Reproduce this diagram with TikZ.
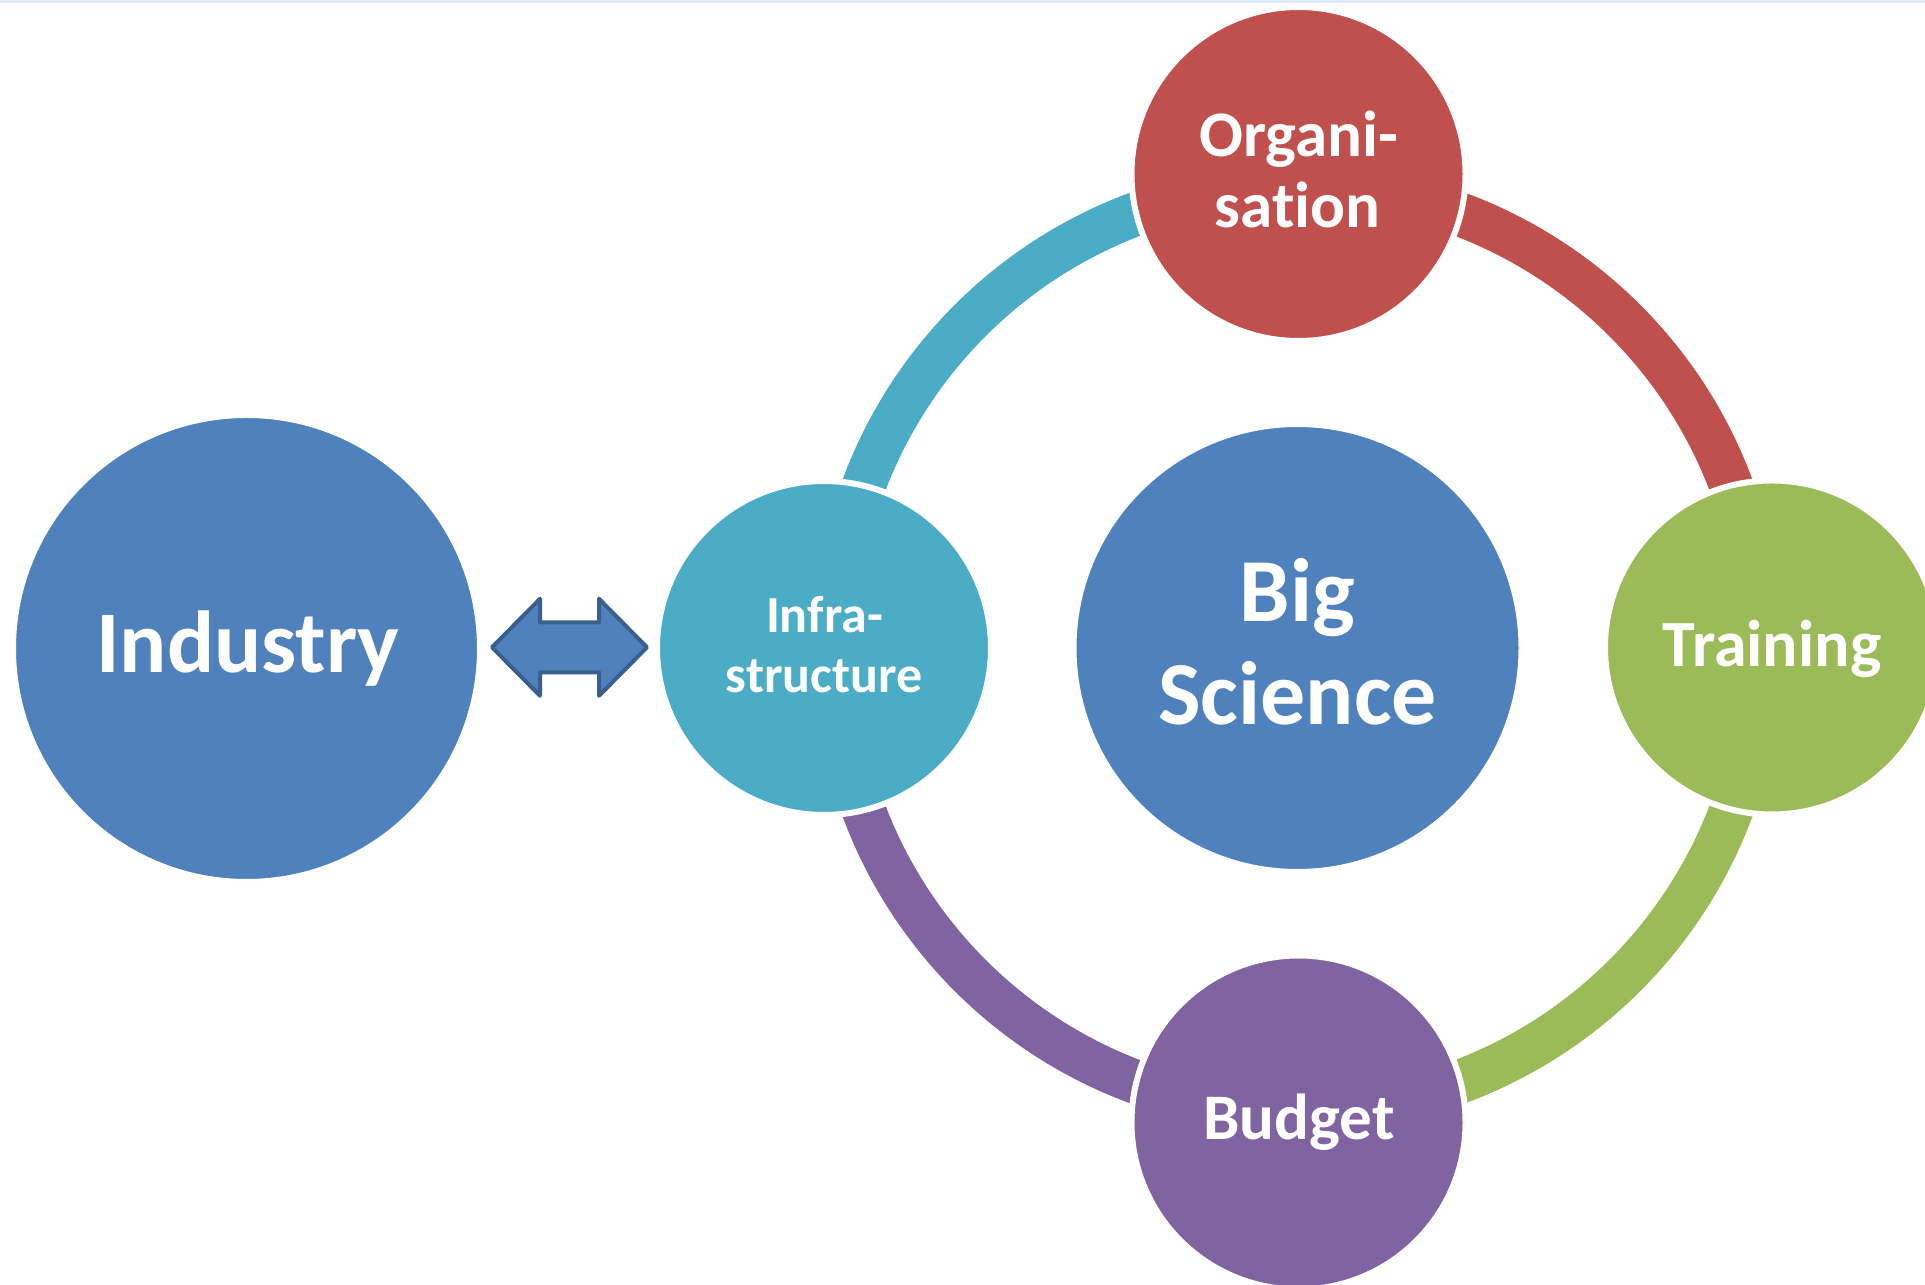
\documentclass[tikz,border=0pt]{standalone}
\usepackage{fontspec}
\setmainfont[Ligatures=NoCommon]{Carlito}
\definecolor{cblue}{HTML}{4F81BD}
\definecolor{cteal}{HTML}{4BACC6}
\definecolor{cred}{HTML}{C0504D}
\definecolor{cgreen}{HTML}{9BBB59}
\definecolor{cpurple}{HTML}{8064A2}
\definecolor{cdark}{HTML}{3A5F8E}
\definecolor{topline}{HTML}{DDECF9}
\begin{document}
\begin{tikzpicture}[x=1pt,y=1pt,
  disc/.style={circle, draw=white, line width=6pt, inner sep=0pt, outer sep=0pt},
  lbl/.style={text=white, font=\bfseries, anchor=base, inner sep=0pt},
  ringarc/.style={line width=44pt}]
\useasboundingbox (0,0) rectangle (1925,1285);
\clip (0,0) rectangle (1925,1285);
\fill[white] (0,0) rectangle (1925,1285);
\fill[topline] (0,1282) rectangle (1925,1285);
% ring
\coordinate (ringc) at (1297.5,637);
\draw[ringarc, cteal]   ([shift={(180:463)}]ringc) arc[start angle=180, end angle=90,  radius=463];
\draw[ringarc, cred]    ([shift={(90:463)}]ringc)  arc[start angle=90,  end angle=0,   radius=463];
\draw[ringarc, cgreen]  ([shift={(0:463)}]ringc)   arc[start angle=0,   end angle=-90, radius=463];
\draw[ringarc, cpurple] ([shift={(-90:463)}]ringc) arc[start angle=-90, end angle=-180,radius=463];
% circles
\node[disc, fill=cblue,   minimum size=467pt] (industry) at (246.5,636.5) {};
\node[disc, fill=cteal,   minimum size=334pt] (infra)    at (824,637) {};
\node[disc, fill=cblue,   minimum size=448pt] (big)      at (1297.5,637) {};
\node[disc, fill=cred,    minimum size=334pt] (org)      at (1298.5,1111) {};
\node[disc, fill=cgreen,  minimum size=334pt] (training) at (1772,637.5) {};
\node[disc, fill=cpurple, minimum size=334pt] (budget)   at (1298.5,162.5) {};
% double arrow
\coordinate (arr) at (569.5,637.7);
\draw[fill=cblue, draw=cdark, line width=4pt, line join=round]
  ([shift={(-77.5,0)}]arr) -- ([shift={(-29.5,48.5)}]arr) -- ([shift={(-29.5,25)}]arr)
  -- ([shift={(29.5,25)}]arr) -- ([shift={(29.5,48.5)}]arr) -- ([shift={(77.5,0)}]arr)
  -- ([shift={(29.5,-48.5)}]arr) -- ([shift={(29.5,-25)}]arr) -- ([shift={(-29.5,-25)}]arr)
  -- ([shift={(-29.5,-48.5)}]arr) -- cycle;
% labels
\node[lbl, font=\bfseries\fontsize{88}{88}\selectfont] (industry-t) at (248,612) {Industry};
\node[lbl, font=\bfseries\fontsize{52}{52}\selectfont] (infra-t1) at (824.5,652) {Infra-};
\node[lbl, font=\bfseries\fontsize{52}{52}\selectfont] (infra-t2) at (824,592) {structure};
\node[lbl, font=\bfseries\fontsize{90}{90}\selectfont] (big-t1) at (1297.5,663) {Big};
\node[lbl, font=\bfseries\fontsize{90}{90}\selectfont] (big-t2) at (1297.5,560) {Science};
\node[lbl, font=\bfseries\fontsize{65}{65}\selectfont] (org-t1) at (1298.5,1128) {Organi-};
\node[lbl, font=\bfseries\fontsize{65}{65}\selectfont] (org-t2) at (1297.5,1057) {sation};
\node[lbl, font=\bfseries\fontsize{66}{66}\selectfont] (training-t) at (1772,618) {Training};
\node[lbl, font=\bfseries\fontsize{65}{65}\selectfont] (budget-t) at (1299,145) {Budget};
\end{tikzpicture}
\end{document}
